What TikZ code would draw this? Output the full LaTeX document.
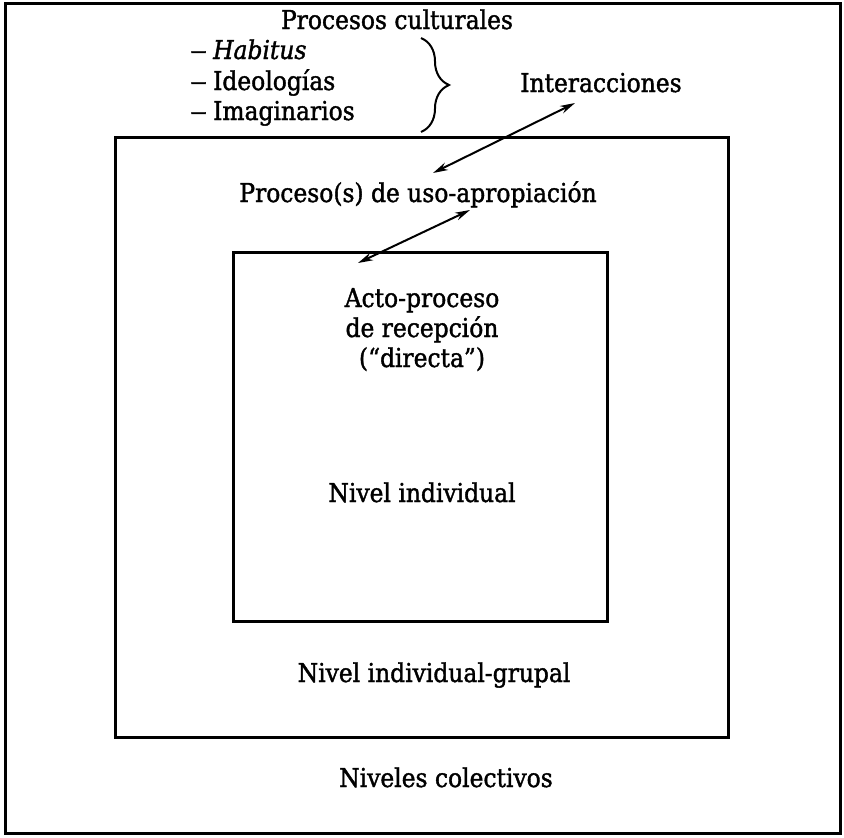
\documentclass[tikz,border=0pt]{standalone}
\usepackage{fontspec}
\setmainfont{DejaVu Serif Condensed}[RawFeature={embolden=1.4}]
\usetikzlibrary{arrows.meta,decorations.pathreplacing}
\newcommand{\itemdash}{\scalebox{1.45}[1]{–}\kern6pt}
\begin{document}
\begin{tikzpicture}[x=1pt,y=-1pt,
  frame/.style={draw=black,line width=3pt},
  lbl/.style={inner sep=0pt,font=\fontsize{26}{30}\selectfont},
  link/.style={line width=2pt,{Stealth[length=15pt,width=8pt]}-{Stealth[length=15pt,width=8pt]}},
  bracket/.style={line width=2pt,decorate,decoration={brace,amplitude=28pt}}]
\useasboundingbox (0,0) rectangle (844,838);
\fill[white] (0,0) rectangle (844,838);

% nested levels
\draw[frame] (5,3) rectangle (840,833);
\draw[frame] (115,137) rectangle (728,737);
\draw[frame] (233,252) rectangle (607,621);

% cultural processes
\node[lbl,anchor=base] (proc) at (397,29) {Procesos culturales};
\node[lbl,anchor=base west] (hab) at (190,59) {\itemdash\textit{Habitus}};
\node[lbl,anchor=base west] (ideo) at (190,90) {\itemdash Ideologías};
\node[lbl,anchor=base west] (imag) at (190,120) {\itemdash Imaginarios};
\coordinate (brtop) at (421,38);
\coordinate (brbot) at (421,132);
\draw[bracket] (brtop) -- (brbot);

\node[lbl,anchor=base] (inter) at (601,92) {Interacciones};
\node[lbl,anchor=base] (uso) at (418,202) {Proceso(s) de uso-apropiación};
% base anchor of a multi-line node sits on its last line
\node[lbl,anchor=base,align=center] (acto) at (422,367) {Acto-proceso\\de recepción\\(“directa”)};
\node[lbl,anchor=base] (nind) at (422,502) {Nivel individual};
\node[lbl,anchor=base] (grupal) at (434,682) {Nivel individual-grupal};
\node[lbl,anchor=base] (colect) at (446,787) {Niveles colectivos};

% interaction arrows
\coordinate (i1) at (575,103);
\coordinate (u1) at (433,173);
\coordinate (u2) at (470,210);
\coordinate (a2) at (358,263);
\draw[link] (i1) -- (u1);
\draw[link] (u2) -- (a2);
\end{tikzpicture}
\end{document}
